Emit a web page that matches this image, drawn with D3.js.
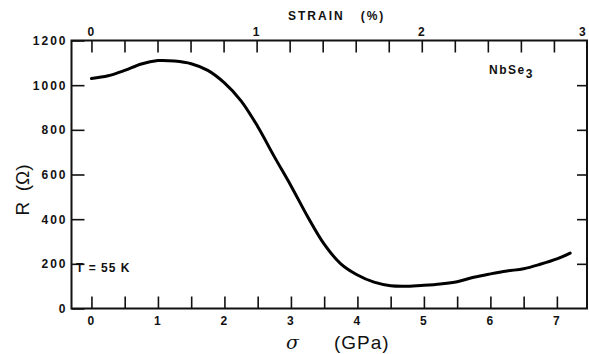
<!DOCTYPE html>
<html>
<head>
<meta charset="utf-8">
<script src="https://cdn.jsdelivr.net/npm/d3@7"></script>
<style>
  body { margin: 0; background: #fff; }
  .tick text { font-family: "Liberation Sans", Arial, sans-serif; font-weight: bold; font-size: 12px; letter-spacing: 2px; fill: #111; }
  .tick line { stroke: #111; stroke-width: 1.6; }
</style>
</head>
<body>
<div id="chart"></div>
<script>
// Chart params
var svgWidth = 589;
var svgHeight = 354;
var margin = { top: 40.5, right: 2, bottom: 45.5, left: 71.5 };
var width = svgWidth - margin.left - margin.right;
var height = svgHeight - margin.top - margin.bottom;

// Data: stress (GPa) vs resistance (ohm)
var sigma = [0, 0.25, 0.5, 0.75, 1.0, 1.25, 1.5, 1.75, 2.0, 2.25, 2.5, 2.75, 3.0, 3.25, 3.5, 3.75,
             4.0, 4.25, 4.5, 4.75, 5.0, 5.25, 5.5, 5.75, 6.0, 6.25, 6.5, 6.75, 7.0, 7.2];
var resistance = [1030, 1042, 1066, 1095, 1110, 1108, 1096, 1066, 1010, 930, 815, 680, 550, 412, 288, 200,
                  150, 118, 102, 100, 104, 110, 120, 140, 155, 168, 178, 198, 222, 248];

var bottomTicks = d3.range(0, 7.01, 0.5);
var bottomLabels = [0, 1, 2, 3, 4, 5, 6, 7];
var topTicks = d3.range(0, 3.01, 0.2);
var topLabels = [0, 1, 2, 3];
var yTicks = [0, 200, 400, 600, 800, 1000, 1200];

var svg = d3.select("#chart").append("svg")
  .attr("width", svgWidth)
  .attr("height", svgHeight);

var chartGroup = svg.append("g")
  .attr("transform", `translate(${margin.left}, ${margin.top})`);

// scales
var xScale = d3.scaleLinear().domain([-0.3, 7.453]).range([0, width]);
var strainScale = d3.scaleLinear().domain([0, 3]).range([xScale(0), xScale(0) + 495.5]);
var yScale = d3.scaleLinear().domain([0, 1200]).range([height, 0]);

// bottom axis
var bottomAxis = d3.axisBottom(xScale)
  .tickValues(bottomTicks)
  .tickSizeInner(-12).tickSizeOuter(0).tickPadding(8)
  .tickFormat(d => bottomLabels.indexOf(d) >= 0 ? d : "");
chartGroup.append("g")
  .attr("transform", `translate(0, ${height})`)
  .call(bottomAxis)
  .call(g => g.select(".domain").remove());

// top axis (strain)
var topAxis = d3.axisTop(strainScale)
  .tickValues(topTicks)
  .tickSizeInner(-12).tickSizeOuter(0).tickPadding(5)
  .tickFormat(d => topLabels.some(v => Math.abs(v - d) < 1e-6) ? d3.format("d")(Math.round(d)) : "");
var topG = chartGroup.append("g").call(topAxis);
topG.select(".domain").remove();
topG.selectAll(".tick").filter(d => Math.abs(d - 3) < 1e-6).select("line").remove();
topG.selectAll(".tick").filter(d => Math.abs(d - 3) < 1e-6).select("text").attr("dx", -4);

// left axis
var leftAxis = d3.axisLeft(yScale)
  .tickValues(yTicks)
  .tickSizeInner(-13).tickSizeOuter(0).tickPadding(4)
  .tickFormat(d3.format("d"));
chartGroup.append("g")
  .call(leftAxis)
  .call(g => g.select(".domain").remove());

// right axis ticks
var rightAxis = d3.axisRight(yScale)
  .tickValues(yTicks.slice(1, -1))
  .tickSizeInner(-10).tickSizeOuter(0)
  .tickFormat("");
chartGroup.append("g")
  .attr("transform", `translate(${width}, 0)`)
  .call(rightAxis)
  .call(g => g.select(".domain").remove());

// frame
chartGroup.append("rect")
  .attr("x", 0).attr("y", 0)
  .attr("width", width).attr("height", height)
  .attr("fill", "none")
  .attr("stroke", "#111")
  .attr("stroke-width", 2);

// the curve
var line = d3.line()
  .x((d, i) => xScale(sigma[i]))
  .y((d, i) => yScale(resistance[i]))
  .curve(d3.curveCatmullRom.alpha(0.5));

chartGroup.append("path")
  .datum(sigma)
  .attr("d", line)
  .attr("fill", "none")
  .attr("stroke", "#000")
  .attr("stroke-width", 3)
  .attr("stroke-linecap", "round");

// labels
svg.append("text")
  .attr("x", 288).attr("y", 20)
  .attr("font-family", "Liberation Sans, Arial, sans-serif")
  .attr("font-weight", "bold")
  .attr("font-size", 12)
  .attr("letter-spacing", 2)
  .attr("fill", "#111")
  .attr("xml:space", "preserve")
  .text("STRAIN   (%)");

svg.append("text")
  .attr("transform", "translate(29, 190) rotate(-90)")
  .attr("text-anchor", "middle")
  .attr("font-family", "Liberation Sans, Arial, sans-serif")
  .attr("font-size", 19)
  .attr("fill", "#111")
  .attr("xml:space", "preserve")
  .text("R  (Ω)");

var sx = svg.append("text")
  .attr("x", 286).attr("y", 349)
  .attr("font-family", "Liberation Sans, Arial, sans-serif")
  .attr("font-size", 19)
  .attr("fill", "#111")
  .attr("xml:space", "preserve");
sx.append("tspan").attr("font-family", "DejaVu Serif, serif").attr("font-style", "italic").text("σ");
sx.append("tspan").attr("x", 334).attr("letter-spacing", 1).text("(GPa)");

var nb = svg.append("text")
  .attr("x", 489).attr("y", 74)
  .attr("font-family", "Liberation Sans, Arial, sans-serif")
  .attr("font-weight", "bold")
  .attr("font-size", 12)
  .attr("letter-spacing", 1.5)
  .attr("fill", "#111");
nb.append("tspan").text("NbSe");
nb.append("tspan").attr("dy", 4).text("3");

svg.append("text")
  .attr("x", 76).attr("y", 272)
  .attr("font-family", "Liberation Sans, Arial, sans-serif")
  .attr("font-weight", "bold")
  .attr("font-size", 12)
  .attr("letter-spacing", 1)
  .attr("fill", "#111")
  .attr("xml:space", "preserve")
  .text("T = 55 K");
</script>
</body>
</html>
